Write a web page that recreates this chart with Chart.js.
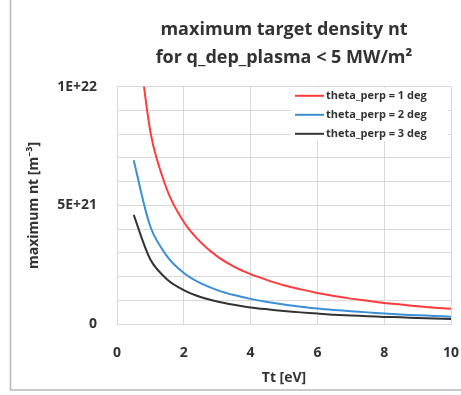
<!DOCTYPE html>
<html>
<head>
<meta charset="utf-8">
<script src="https://cdn.jsdelivr.net/npm/chart.js@4"></script>
<style>
  html, body { margin: 0; padding: 0; background: #fff; }
  #wrap { width: 461px; height: 395px; }
</style>
</head>
<body>
<div id="wrap"><canvas id="ntChart" width="461" height="395"></canvas></div>
<script>
// target temperature Tt [eV]
const tt = [0.5, 1, 1.5, 2, 2.5, 3, 3.5, 4, 4.5, 5, 5.5, 6, 6.5, 7, 7.5, 8, 8.5, 9, 9.5, 10];

// maximum nt [m^-3]
const ntDeg1 = [13.8e21, 8.1e21, 5.65e21, 4.3e21, 3.45e21, 2.85e21, 2.42e21, 2.1e21, 1.85e21, 1.63e21,
  1.46e21, 1.31e21, 1.18e21, 1.07e21, 0.98e21, 0.89e21, 0.82e21, 0.75e21, 0.69e21, 0.64e21];
const ntDeg2 = [6.9e21, 4.1e21, 2.85e21, 2.15e21, 1.72e21, 1.43e21, 1.22e21, 1.06e21, 0.93e21, 0.82e21,
  0.73e21, 0.65e21, 0.59e21, 0.54e21, 0.49e21, 0.44e21, 0.40e21, 0.37e21, 0.34e21, 0.31e21];
const ntDeg3 = [4.6e21, 2.72e21, 1.88e21, 1.43e21, 1.14e21, 0.95e21, 0.81e21, 0.70e21, 0.62e21, 0.55e21,
  0.49e21, 0.44e21, 0.39e21, 0.36e21, 0.33e21, 0.30e21, 0.28e21, 0.25e21, 0.23e21, 0.21e21];

const seriesLabels = ['theta_perp = 1 deg', 'theta_perp = 2 deg', 'theta_perp = 3 deg'];
const seriesColors = ['#ff3b3b', '#3a8fd6', '#333333'];

const yLabels = { 0: '0', 5e21: '5E+21', 1e22: '1E+22' };

const fontFam = '"Open Sans", "Noto Sans", sans-serif';
const textColor = '#333333';

function toPoints(ys) {
  return tt.map((x, i) => ({ x: x, y: ys[i] }));
}

// white background + grey frame on the left and bottom
const framePlugin = {
  id: 'frame',
  beforeDraw(chart) {
    const c = chart.ctx;
    c.save();
    c.fillStyle = '#fff';
    c.fillRect(0, 0, chart.width, chart.height);
    c.strokeStyle = '#b8b8b8';
    c.lineWidth = 1.5;
    c.beginPath();
    c.moveTo(10.5, 0);
    c.lineTo(10.5, 390);
    c.lineTo(chart.width, 390);
    c.stroke();
    c.restore();
  }
};

// legend inside the plot, top right
const insideLegend = {
  id: 'insideLegend',
  afterDatasetsDraw(chart) {
    const c = chart.ctx;
    const area = chart.chartArea;
    const x0 = area.right - 160;
    const y0 = area.top + 1;
    c.save();
    c.fillStyle = '#fff';
    c.fillRect(x0, y0, 157, 53);
    c.font = 'bold 11px ' + fontFam;
    c.textBaseline = 'middle';
    c.textAlign = 'left';
    chart.data.datasets.forEach((ds, i) => {
      const y = y0 + 8 + i * 19;
      c.strokeStyle = ds.borderColor;
      c.lineWidth = 2;
      c.beginPath();
      c.moveTo(x0 + 4, y);
      c.lineTo(x0 + 33, y);
      c.stroke();
      c.fillStyle = textColor;
      c.fillText(ds.label, x0 + 35, y);
    });
    c.restore();
  }
};

const ctx = document.getElementById('ntChart');

const chart = new Chart(ctx, {
  type: 'line',
  data: {
    datasets: [
      { label: seriesLabels[0], data: toPoints(ntDeg1), borderColor: seriesColors[0] },
      { label: seriesLabels[1], data: toPoints(ntDeg2), borderColor: seriesColors[1] },
      { label: seriesLabels[2], data: toPoints(ntDeg3), borderColor: seriesColors[2] }
    ]
  },
  options: {
    responsive: false,
    animation: false,
    layout: { padding: { left: 26, right: 10, top: 0, bottom: 5 } },
    elements: {
      point: { radius: 0 },
      line: { borderWidth: 2, tension: 0.3, fill: false }
    },
    plugins: {
      legend: { display: false },
      tooltip: { enabled: false },
      title: {
        display: true,
        fullSize: false,
        text: ['maximum target density nt', 'for q_dep_plasma < 5 MW/m²'],
        color: textColor,
        font: { family: fontFam, size: 18, weight: 'bold', lineHeight: 1.55 },
        padding: { top: 16, bottom: 15 }
      }
    },
    scales: {
      x: {
        type: 'linear',
        min: 0,
        max: 10,
        ticks: {
          stepSize: 2,
          color: textColor,
          font: { family: fontFam, size: 14, weight: 'bold' },
          padding: 21
        },
        grid: { color: '#d9d9d9', drawTicks: false },
        border: { color: '#d9d9d9' },
        title: {
          display: true,
          text: 'Tt [eV]',
          color: textColor,
          font: { family: fontFam, size: 14, weight: 'bold' },
          padding: { top: 4, bottom: 4 }
        },
        afterFit(scale) {
          scale.height = 66;
          scale.paddingRight = 0;
        }
      },
      y: {
        min: 0,
        max: 1e22,
        ticks: {
          stepSize: 1e21,
          autoSkip: false,
          color: textColor,
          font: { family: fontFam, size: 14, weight: 'bold' },
          padding: 20,
          callback: (v) => (yLabels[v] !== undefined ? yLabels[v] : '')
        },
        grid: { color: '#d9d9d9', drawTicks: false },
        border: { color: '#d9d9d9' },
        title: {
          display: true,
          text: 'maximum nt [m⁻³]',
          color: textColor,
          font: { family: fontFam, size: 14, weight: 'bold' },
          padding: { top: 0, bottom: 0 }
        },
        afterFit(scale) { scale.width = 91; }
      }
    }
  },
  plugins: [framePlugin, insideLegend]
});
</script>
</body>
</html>
